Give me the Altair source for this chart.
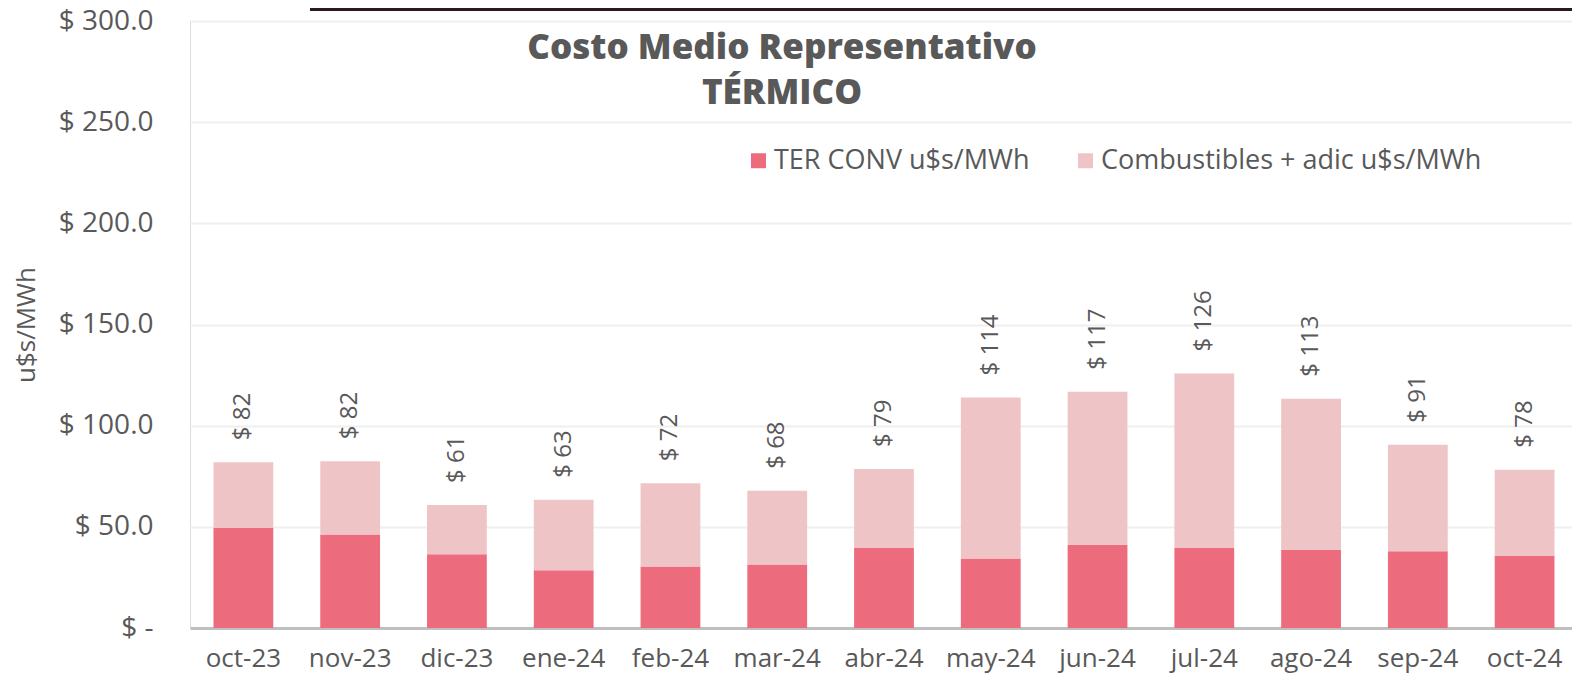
import altair as alt
import pandas as pd

months = ["oct-23", "nov-23", "dic-23", "ene-24", "feb-24", "mar-24", "abr-24",
          "may-24", "jun-24", "jul-24", "ago-24", "sep-24", "oct-24"]
ter_conv = [49.6, 46.2, 36.4, 28.6, 30.4, 31.4, 39.6, 34.4, 41.2, 39.6, 38.5, 37.9, 35.6]
combustibles = [32.3, 36.2, 24.4, 34.8, 41.2, 36.4, 39.0, 79.5, 75.6, 86.2, 74.8, 52.7, 42.6]
series_names = ["TER CONV u$s/MWh", "Combustibles + adic u$s/MWh"]
y_ticks = [0, 50, 100, 150, 200, 250, 300]

rows = []
for i, m in enumerate(months):
    rows.append({"mes": m, "serie": series_names[0], "valor": ter_conv[i], "orden": 0})
    rows.append({"mes": m, "serie": series_names[1], "valor": combustibles[i], "orden": 1})
df = pd.DataFrame(rows)

FONT = "Open Sans"
GRAY = "#595959"
DARK = "#EC6C7D"
LIGHT = "#EFC4C6"

x_scale = alt.Scale(paddingInner=0.44, paddingOuter=0.192, align=0.573)

bars = alt.Chart(df).mark_bar().encode(
    x=alt.X("mes:N", sort=months, scale=x_scale,
            axis=alt.Axis(title=None, labelAngle=0, labelFontSize=26, labelColor=GRAY,
                          labelFont=FONT, ticks=False, domainColor="#BFBFBF", domainWidth=3,
                          labelPadding=38, labelBaseline="alphabetic", grid=False)),
    y=alt.Y("valor:Q", stack="zero", scale=alt.Scale(domain=[0, 300], nice=False),
            axis=alt.Axis(values=y_ticks,
                          labelExpr="datum.value == 0 ? '$ -' : '$ ' + format(datum.value, '.1f')",
                          labelFontSize=28, labelFont=FONT, labelColor=GRAY, labelPadding=37,
                          ticks=False, domain=False, gridColor="#EFEFEF", gridWidth=2,
                          title="u$s/MWh", titleFontSize=26, titleFont=FONT, titleColor=GRAY,
                          titleFontWeight="normal", titleX=-164, titleY=303.5, titleAngle=270,
                          titleAlign="center", titleBaseline="middle")),
    color=alt.Color("serie:N", scale=alt.Scale(domain=series_names, range=[DARK, LIGHT]),
                    legend=alt.Legend(orient="none", legendX=555, legendY=126,
                                      direction="horizontal", title=None, symbolType="square",
                                      symbolSize=225, symbolStrokeWidth=0, symbolOpacity=1,
                                      labelFontSize=27, labelFont=FONT, labelColor=GRAY,
                                      labelOffset=2, columnPadding=42, labelLimit=0)),
    order=alt.Order("orden:Q", sort="ascending"),
)

labels = alt.Chart(df).transform_aggregate(
    total="sum(valor)", groupby=["mes"]
).transform_calculate(
    lbl="'$ ' + format(datum.total, '.0f')"
).mark_text(angle=270, align="left", baseline="middle", dx=22, fontSize=24,
            font=FONT, color=GRAY).encode(
    x=alt.X("mes:N", sort=months, scale=x_scale),
    y=alt.Y("total:Q"),
    text="lbl:N",
)

top_line = alt.Chart(pd.DataFrame({"a": [0]})).mark_rule(
    color="#2b1a1c", strokeWidth=3
).encode(x=alt.value(120), x2=alt.value(1382), y=alt.value(-11.5))

chart = alt.layer(bars, labels, top_line).properties(
    width=1382, height=607,
    padding={"left": 182, "top": 13, "right": 0, "bottom": 46},
    autosize=alt.AutoSizeParams(type="none"),
    title=alt.TitleParams(text=["Costo Medio Representativo", "TÉRMICO"], font=FONT,
                          fontSize=35, fontWeight=800, color=GRAY, anchor="middle",
                          dx=-99, dy=104, baseline="top", lineHeight=45, offset=0),
).configure_view(stroke=None).configure(background="white")

chart.save("out.html", embed_options={"renderer": "svg", "actions": False})
